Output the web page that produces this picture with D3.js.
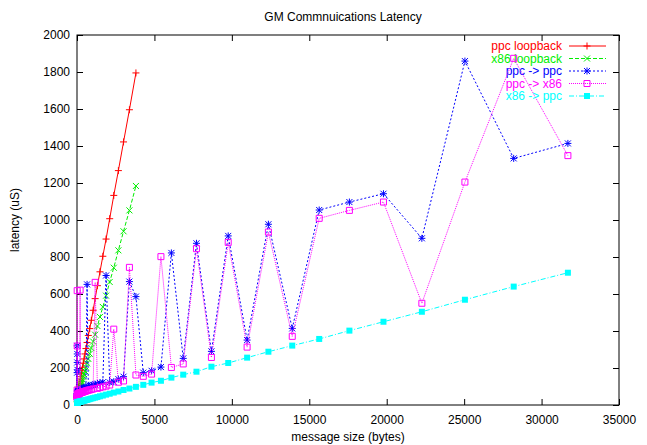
<!DOCTYPE html>
<html>
<head>
<meta charset="utf-8">
<script src="https://cdn.jsdelivr.net/npm/d3@7"></script>
<style>
body { margin: 0; background: #fff; }
text { font-family: "Liberation Sans", Arial, Helvetica, sans-serif; font-size: 12px; }
</style>
</head>
<body>
<svg id="chart" width="647" height="445"></svg>
<script>
// message sizes (bytes)
const sizes = [8, 9, 10, 12, 13, 15, 17, 19, 21, 24, 27, 30, 34, 38, 43, 49, 55, 62, 69, 78,
  88, 99, 111, 125, 140, 158, 178, 200, 225, 253, 285, 321, 361, 406, 457, 514, 578, 650, 731, 823,
  926, 1042, 1172, 1318, 1483, 1668, 1877, 2111, 2375, 2672, 3005, 3385, 3805, 4280, 4815, 5420, 6095, 6860, 7715, 8680,
  9765, 10985, 12360, 13900, 15640, 17590, 19790, 22270, 25050, 28200, 31700]

// latency (uS), loopbacks only go up to 3805 bytes
const ppcLoopback = [40, 40, 41, 42, 42, 43, 44, 45, 46, 47, 49, 50, 52, 54, 56, 59, 62, 65, 68, 72,
  77, 82, 88, 94, 101, 110, 119, 129, 140, 153, 168, 185, 204, 226, 249, 276, 305, 338, 376, 413,
  458, 512, 575, 645, 720, 804, 897, 1007, 1133, 1267, 1422, 1596, 1795]
const x86Loopback = [32, 32, 33, 33, 33, 34, 34, 35, 35, 36, 37, 38, 39, 40, 42, 44, 46, 48, 50, 53,
  56, 59, 63, 67, 72, 77, 83, 90, 97, 106, 115, 126, 138, 152, 167, 184, 203, 225, 249, 277,
  308, 343, 380, 427, 476, 530, 591, 665, 742, 836, 939, 1052, 1184]
const ppcToPpc = [45, 175, 55, 320, 58, 230, 60, 276, 62, 63, 64, 190, 65, 66, 67, 68, 69, 70, 71, 72,
  73, 74, 75, 76, 77, 78, 79, 80, 81, 82, 84, 86, 88, 90, 92, 95, 98, 652, 100, 103,
  106, 109, 112, 115, 119, 123, 700, 122, 126, 140, 153, 667, 586, 175, 185, 205, 822, 252, 874, 290,
  914, 351, 977, 414, 1054, 1097, 1142, 901, 1859, 1333, 1414]
const ppcToX86 = [40, 81, 42, 618, 44, 319, 45, 46, 47, 48, 49, 50, 51, 52, 53, 54, 55, 56, 57, 58,
  59, 60, 61, 62, 63, 64, 65, 621, 66, 67, 68, 69, 70, 71, 73, 74, 76, 78, 80, 82,
  84, 87, 663, 90, 94, 98, 102, 108, 410, 123, 130, 744, 162, 155, 167, 802, 203, 222, 845, 257,
  879, 313, 935, 371, 1009, 1052, 1097, 550, 1205, 1874, 1348]
const x86ToPpc = [14, 14, 14, 14, 14, 14, 14, 14, 15, 15, 15, 15, 15, 15, 15, 15, 15, 15, 16, 16,
  16, 16, 16, 17, 17, 17, 18, 18, 19, 20, 20, 21, 22, 23, 24, 25, 27, 28, 30, 32,
  35, 37, 40, 43, 47, 51, 56, 61, 67, 73, 81, 89, 98, 109, 121, 131, 148, 164, 180, 207,
  227, 256, 288, 321, 357, 402, 450, 504, 569, 640, 715]

const seriesNames = ["ppc loopback", "x86 loopback", "ppc -> ppc", "ppc -> x86", "x86 -> ppc"]
const xTicks = [0, 5000, 10000, 15000, 20000, 25000, 30000, 35000]
const yTicks = [0, 200, 400, 600, 800, 1000, 1200, 1400, 1600, 1800, 2000]

const styles = [
  {color: "#ff0000", dash: null, mark: "plus"},
  {color: "#00ee00", dash: "4,2", mark: "cross"},
  {color: "#0000ff", dash: "2,2", mark: "star"},
  {color: "#ff00ff", dash: "1,1", mark: "openSquare"},
  {color: "#00ffff", dash: "5,2,1,2", mark: "fillSquare"}
]
const allValues = [ppcLoopback, x86Loopback, ppcToPpc, ppcToX86, x86ToPpc]

const svg = d3.select("#chart")
const pLeft = 77, pRight = 619, pTop = 35, pBottom = 405

const x = d3.scaleLinear().domain([0, 35000]).range([pLeft, pRight])
const y = d3.scaleLinear().domain([0, 2000]).range([pBottom, pTop])
const fmt = d3.format("d")

// axes, ticks pointing inwards and mirrored
svg.append("g").attr("transform", `translate(0,${pBottom})`)
  .call(d3.axisBottom(x).tickValues(xTicks).tickSize(-6).tickPadding(10).tickFormat(fmt))
svg.append("g").attr("transform", `translate(0,${pTop})`)
  .call(d3.axisTop(x).tickValues(xTicks).tickSize(-6).tickFormat(""))
svg.append("g").attr("transform", `translate(${pLeft},0)`)
  .call(d3.axisLeft(y).tickValues(yTicks).tickSize(-6).tickPadding(7).tickFormat(fmt))
svg.append("g").attr("transform", `translate(${pRight},0)`)
  .call(d3.axisRight(y).tickValues(yTicks).tickSize(-6).tickFormat(""))
svg.selectAll(".domain").remove()
svg.selectAll("g").attr("font-family", null).attr("font-size", null)
svg.selectAll(".tick text").attr("fill", "#000")
svg.selectAll(".tick line").attr("stroke", "#000")

svg.append("rect")
  .attr("x", pLeft).attr("y", pTop)
  .attr("width", pRight - pLeft).attr("height", pBottom - pTop)
  .attr("fill", "none").attr("stroke", "#000")

svg.append("text").attr("x", 343).attr("y", 21).attr("text-anchor", "middle")
  .text("GM Commnuications Latency")
svg.append("text").attr("x", (pLeft + pRight) / 2).attr("y", 441).attr("text-anchor", "middle")
  .text("message size (bytes)")
svg.append("text").attr("transform", `translate(19,${(pTop + pBottom) / 2}) rotate(-90)`)
  .attr("text-anchor", "middle").text("latency (uS)")

function markPath(kind) {
  const s = 3
  switch (kind) {
    case "plus": return `M${-s - 0.5},0H${s + 0.5}M0,${-s - 0.5}V${s + 0.5}`
    case "cross": return `M${-s},${-s}L${s},${s}M${-s},${s}L${s},${-s}`
    case "star": return `M${-s - 0.5},0H${s + 0.5}M0,${-s - 0.5}V${s + 0.5}M${-s},${-s}L${s},${s}M${-s},${s}L${s},${-s}`
    case "openSquare": return `M${-s},${-s}H${s}V${s}H${-s}Z`
    case "fillSquare": return `M${-s},${-s}H${s}V${s}H${-s}Z`
  }
}

function drawMark(g, kind, color, cx, cy) {
  g.append("path")
    .attr("transform", `translate(${cx},${cy})`)
    .attr("d", markPath(kind))
    .attr("stroke", kind == "fillSquare" ? "none" : color)
    .attr("fill", kind == "fillSquare" ? color : "none")
    .attr("stroke-width", 1)
}

const line = d3.line().x(d => x(d[0])).y(d => y(d[1]))

allValues.forEach((vals, i) => {
  const st = styles[i]
  const pts = vals.map((v, j) => [sizes[j], v])
  const g = svg.append("g").attr("class", "series" + i)

  // legend entry
  const ly = 46 + i * 12.5
  g.append("text").attr("x", 562).attr("y", ly + 4).attr("text-anchor", "end")
    .attr("fill", st.color).text(seriesNames[i])
  g.append("line").attr("x1", 569).attr("x2", 606).attr("y1", ly).attr("y2", ly)
    .attr("stroke", st.color).attr("stroke-dasharray", st.dash)
  drawMark(g, st.mark, st.color, 587, ly)

  g.append("path").datum(pts)
    .attr("d", line)
    .attr("fill", "none")
    .attr("stroke", st.color)
    .attr("stroke-width", 1)
    .attr("stroke-dasharray", st.dash)

  pts.forEach(p => drawMark(g, st.mark, st.color, x(p[0]), y(p[1])))
})
</script>
</body>
</html>
